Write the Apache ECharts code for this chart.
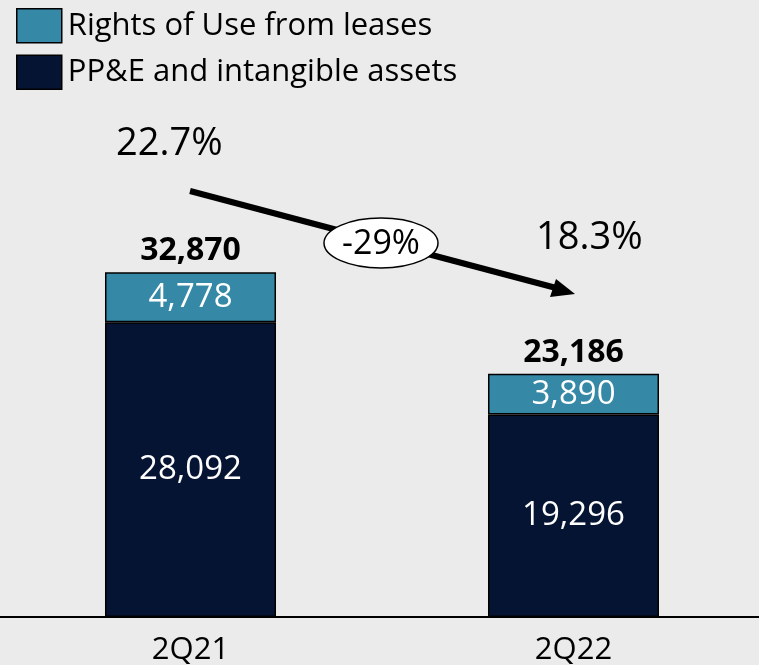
<!DOCTYPE html>
<html><head><meta charset="utf-8">
<script src="https://cdn.jsdelivr.net/npm/echarts@6/dist/echarts.min.js"></script>
<style>html,body{margin:0;padding:0;background:#ebebeb}#c{width:759px;height:665px}</style>
</head><body><div id="c"></div>
<script>
const categories = ['2Q21', '2Q22'];
const ppeValues = [28092, 19296];
const rouValues = [4778, 3890];
const totals = [32870, 23186];
const seriesNames = ['Rights of Use from leases', 'PP&E and intangible assets'];
const ratioLabels = ['22.7%', '18.3%'];
const changeLabel = '-29%';

const FONT = 'Open Sans';
const fmt = v => v.toLocaleString('en-US');
const chart = echarts.init(document.getElementById('c'));
chart.setOption({
  backgroundColor: '#ebebeb',
  animation: false,
  textStyle: { fontFamily: FONT },
  legend: {
    left: 11, top: 3, orient: 'vertical', itemGap: 11,
    itemWidth: 45, itemHeight: 34, icon: 'rect',
    selectedMode: false,
    data: [
      { name: seriesNames[0], itemStyle: { color: '#3589a6', borderColor: '#000', borderWidth: 1.5 } },
      { name: seriesNames[1], itemStyle: { color: '#061433', borderColor: '#000', borderWidth: 1.5 } }
    ],
    textStyle: { fontSize: 31, color: '#000', fontFamily: FONT, padding: [0, 0, 0, 1] }
  },
  grid: { left: -1, width: 766, bottom: 48, top: 40, outerBoundsMode: 'none', containLabel: false },
  xAxis: {
    type: 'category', data: categories,
    axisLine: { lineStyle: { color: '#000', width: 2 } },
    axisTick: { show: false },
    axisLabel: { fontSize: 31, color: '#000', margin: 18, fontFamily: FONT }
  },
  yAxis: { type: 'value', min: 0, max: 55000, show: false, splitLine: { show: false } },
  series: [
    {
      name: seriesNames[1], type: 'bar', stack: 't', data: ppeValues, barWidth: '44.65%',
      itemStyle: { color: '#061433', borderColor: '#000', borderWidth: 1.5 },
      label: { show: true, position: 'inside', color: '#fff', fontSize: 33, fontFamily: FONT, formatter: p => fmt(p.value) }
    },
    {
      name: seriesNames[0], type: 'bar', stack: 't', data: rouValues, barWidth: '44.65%',
      itemStyle: { color: '#3589a6', borderColor: '#000', borderWidth: 1.5 },
      label: { show: true, position: 'inside', color: '#fff', fontSize: 33, fontFamily: FONT, formatter: p => fmt(p.value) }
    },
    {
      name: 'total', type: 'bar', stack: 't', data: totals.map(() => 0), barWidth: '44.65%',
      itemStyle: { color: 'transparent' }, legendHoverLink: false, silent: true,
      label: { show: true, position: 'top', distance: 5, color: '#000', fontSize: 32, fontWeight: 'bold', fontFamily: FONT,
        formatter: p => fmt(totals[p.dataIndex]) }
    }
  ],
  graphic: [
    { type: 'text', left: 116, top: 125, style: { text: ratioLabels[0], fontSize: 38, fill: '#000', fontFamily: FONT } },
    { type: 'text', left: 536, top: 219, style: { text: ratioLabels[1], fontSize: 38, fill: '#000', fontFamily: FONT } },
    { type: 'line', shape: { x1: 190, y1: 191, x2: 560, y2: 289 }, style: { stroke: '#000', lineWidth: 6 } },
    { type: 'polygon', shape: { points: [[575, 294], [550, 297], [556, 279]] }, style: { fill: '#000' } },
    { type: 'ellipse', shape: { cx: 381, cy: 243, rx: 57, ry: 25 }, style: { fill: '#fff', stroke: '#000', lineWidth: 1.5 } },
    { type: 'text', x: 381, y: 244, style: { text: changeLabel, fontSize: 34, fill: '#000', fontFamily: FONT, align: 'center', verticalAlign: 'middle' } }
  ]
});
</script></body></html>
